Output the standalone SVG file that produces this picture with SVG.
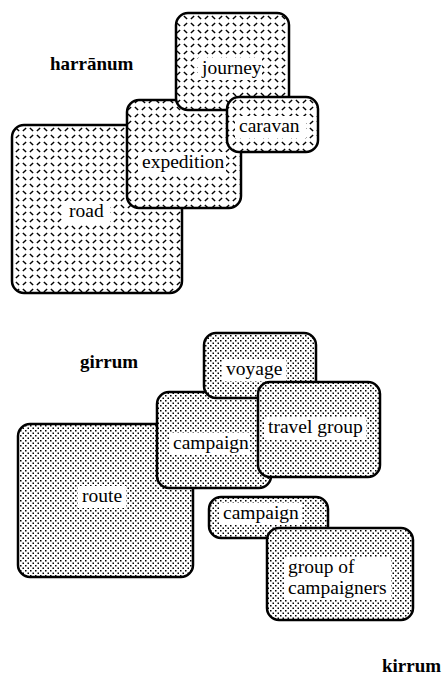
<svg xmlns="http://www.w3.org/2000/svg" width="444" height="677" viewBox="0 0 444 677">
<style>
.box{stroke:#000;stroke-width:2.5}
.plate{fill:url(#plate)}
.dots{fill:url(#dots)}
.bg{fill:#fff}
.lbl{font-family:"Liberation Serif","Times New Roman",serif;font-size:19.5px;fill:#000}
.ttl{font-family:"Liberation Serif","Times New Roman",serif;font-size:19px;font-weight:bold;fill:#000}
</style>
<defs>
<pattern id="plate" width="14" height="14" patternUnits="userSpaceOnUse">
<rect width="14" height="14" fill="#fff"/>
<g stroke="#000" stroke-width="1.4">
<line x1="1.9" y1="1.9" x2="5.1" y2="5.1"/>
<line x1="8.9" y1="5.1" x2="12.1" y2="1.9"/>
<line x1="1.9" y1="12.1" x2="5.1" y2="8.9"/>
<line x1="8.9" y1="8.9" x2="12.1" y2="12.1"/>
</g>
</pattern>
<pattern id="dots" width="5" height="5" patternUnits="userSpaceOnUse">
<rect width="5" height="5" fill="#fff"/>
<rect x="0" y="0" width="1.5" height="1.5" fill="#000"/>
<rect x="2.5" y="2.5" width="1.5" height="1.5" fill="#000"/>
</pattern>
</defs>
<text class="ttl" x="50" y="70">harrānum</text>
<g id="road">
<rect class="box plate" x="12" y="125" width="170" height="168" rx="12"/>
<rect class="bg" x="64" y="201" width="46" height="22"/>
<text class="lbl" x="69" y="217">road</text>
</g>
<g id="expedition">
<rect class="box plate" x="127" y="100" width="114" height="108" rx="12"/>
<rect class="bg" x="138" y="152" width="88" height="22"/>
<text class="lbl" x="142" y="168">expedition</text>
</g>
<g id="journey">
<rect class="box plate" x="176" y="13" width="113" height="97" rx="12"/>
<rect class="bg" x="198" y="58" width="64" height="22"/>
<text class="lbl" x="202" y="74">journey</text>
</g>
<g id="caravan">
<rect class="box plate" x="227" y="97" width="91" height="55" rx="12"/>
<rect class="bg" x="235" y="116" width="71" height="22"/>
<text class="lbl" x="239" y="132">caravan</text>
</g>
<text class="ttl" x="80" y="368">girrum</text>
<g id="route">
<rect class="box dots" x="18" y="424" width="175" height="153" rx="12"/>
<rect class="bg" x="78" y="486" width="48" height="22"/>
<text class="lbl" x="82" y="502">route</text>
</g>
<g id="campaign1">
<rect class="box dots" x="157" y="392" width="114" height="96" rx="12"/>
<rect class="bg" x="169" y="433" width="81" height="22"/>
<text class="lbl" x="173" y="449">campaign</text>
</g>
<g id="voyage">
<rect class="box dots" x="204" y="333" width="112" height="65" rx="12"/>
<rect class="bg" x="222" y="359" width="64" height="22"/>
<text class="lbl" x="226" y="375">voyage</text>
</g>
<g id="travel-group">
<rect class="box dots" x="258" y="382" width="122" height="95" rx="12"/>
<rect class="bg" x="264" y="417" width="102" height="22"/>
<text class="lbl" x="268" y="433">travel group</text>
</g>
<g id="campaign2">
<rect class="box dots" x="209" y="497" width="119" height="41" rx="12"/>
<rect class="bg" x="219" y="503" width="83" height="22"/>
<text class="lbl" x="223" y="519">campaign</text>
</g>
<g id="group-of-campaigners">
<rect class="box dots" x="267" y="528" width="146" height="92" rx="12"/>
<rect class="bg" x="284" y="557" width="107" height="43"/>
<text class="lbl" x="288" y="573">group of</text>
<text class="lbl" x="288" y="594">campaigners</text>
</g>
<g id="connectors"></g>
<text class="ttl" x="382" y="672">kirrum</text>
</svg>
